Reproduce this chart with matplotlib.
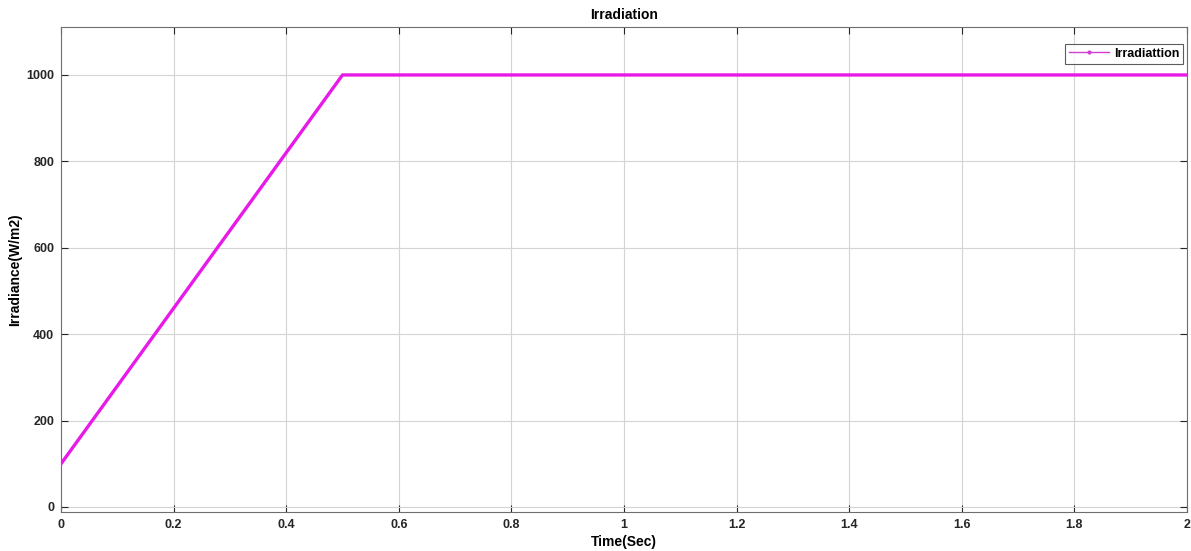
import matplotlib
matplotlib.use("Agg")
import matplotlib.pyplot as plt

# irradiance profile (ramp then constant)
time_s = [0.0, 0.5, 2.0]
irradiance = [100, 1000, 1000]

x_ticks = [0, 0.2, 0.4, 0.6, 0.8, 1, 1.2, 1.4, 1.6, 1.8, 2]
x_tick_labels = ["0", "0.2", "0.4", "0.6", "0.8", "1", "1.2", "1.4", "1.6", "1.8", "2"]
y_ticks = [0, 200, 400, 600, 800, 1000]

plt.rcParams["font.family"] = ["Liberation Sans", "DejaVu Sans"]
plt.rcParams["font.weight"] = "bold"

W, H = 1191, 551
fig = plt.figure(figsize=(W / 100, H / 100), dpi=100)
ax = fig.add_axes([61 / W, (H - 512) / H, 1126 / W, 485 / H])

ax.plot(time_s, irradiance, color="#e81ae8", linewidth=2.4, zorder=3)

# legend proxy: thin line with small dot
ax.plot([], [], color="#d040d0", linewidth=1, marker=".", markersize=4,
        label="Irradiattion")

ax.set_xlim(0, 2)
ax.set_ylim(-11.6, 1111)
ax.set_xticks(x_ticks)
ax.set_xticklabels(x_tick_labels)
ax.set_yticks(y_ticks)

ax.grid(True, color="#d4d4d4", linewidth=0.8)
ax.tick_params(direction="in", length=5, width=0.8, top=True, right=True,
               labelsize=9, colors="#262626", pad=5)
for sp in ax.spines.values():
    sp.set_color("#6e6e6e")
    sp.set_linewidth(0.8)

ax.set_title("Irradiation", fontsize=10, fontweight="bold", pad=6)
ax.set_xlabel("Time(Sec)", fontsize=10, fontweight="bold", labelpad=3)
ax.set_ylabel("Irradiance(W/m2)", fontsize=10, fontweight="bold", labelpad=3)

leg = ax.legend(loc="upper right", bbox_to_anchor=(0.9985, 0.97), fontsize=9,
                frameon=True, fancybox=False, borderpad=0.3, handlelength=3.2,
                handletextpad=0.4, borderaxespad=0.2)
leg.get_frame().set_edgecolor("#333333")
leg.get_frame().set_linewidth(0.8)

fig.savefig("out.png", dpi=100)
